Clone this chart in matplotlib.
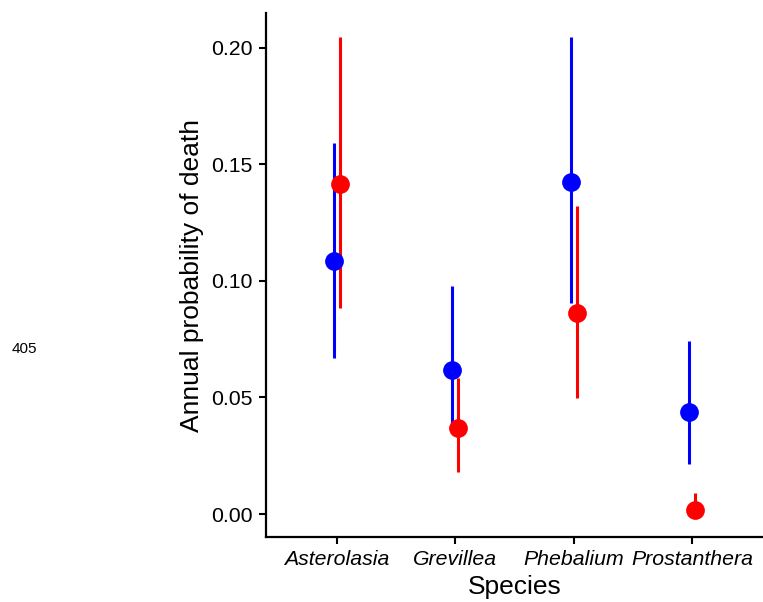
import matplotlib
matplotlib.use("Agg")
import matplotlib.pyplot as plt
import numpy as np

plt.rcParams["font.family"] = ["Liberation Sans", "DejaVu Sans"]

# data
species = ["Asterolasia", "Grevillea", "Phebalium", "Prostanthera"]

blue_mid = [0.1087, 0.0618, 0.1426, 0.0439]
blue_lo = [0.0671, 0.0391, 0.0904, 0.0215]
blue_hi = [0.1591, 0.0979, 0.2049, 0.0742]

red_mid = [0.1416, 0.0369, 0.0861, 0.0017]
red_lo = [0.0883, 0.0180, 0.0497, 0.0000]
red_hi = [0.2049, 0.0584, 0.1322, 0.0092]

fig = plt.figure(figsize=(7.63, 6.02), dpi=100)
ax = fig.add_axes([266 / 763, 65 / 602, 497 / 763, 524 / 602])

x = np.arange(1, len(species) + 1)
dodge = 0.025

for xs, mid, lo, hi, col in [
    (x - dodge, blue_mid, blue_lo, blue_hi, "#0000FF"),
    (x + dodge, red_mid, red_lo, red_hi, "#FF0000"),
]:
    ax.vlines(xs, lo, hi, color=col, lw=2.2, zorder=2)
    ax.plot(xs, mid, "o", color=col, ms=13.5, mec="none", zorder=3)

ax.set_xlim(0.4, 4.6)
ax.set_ylim(-0.00987, 0.215)
ax.set_xticks(x)
ax.set_xticklabels(species, fontstyle="italic", fontsize=15.3)
ax.set_yticks([0.0, 0.05, 0.10, 0.15, 0.20])
ax.set_yticklabels(["0.00", "0.05", "0.10", "0.15", "0.20"], fontsize=15.3)
ax.tick_params(length=5, width=1.5, color="black", labelcolor="black", pad=4.5)

for s in ["top", "right"]:
    ax.spines[s].set_visible(False)
for s in ["left", "bottom"]:
    ax.spines[s].set_linewidth(1.6)

ax.set_xlabel("Species", fontsize=19, labelpad=4)
ax.set_ylabel("Annual probability of death", fontsize=19, labelpad=5)

fig.text(24 / 763, 1 - 349 / 602, "405", fontsize=11, ha="center", va="center")

fig.savefig("out.png", dpi=100)
